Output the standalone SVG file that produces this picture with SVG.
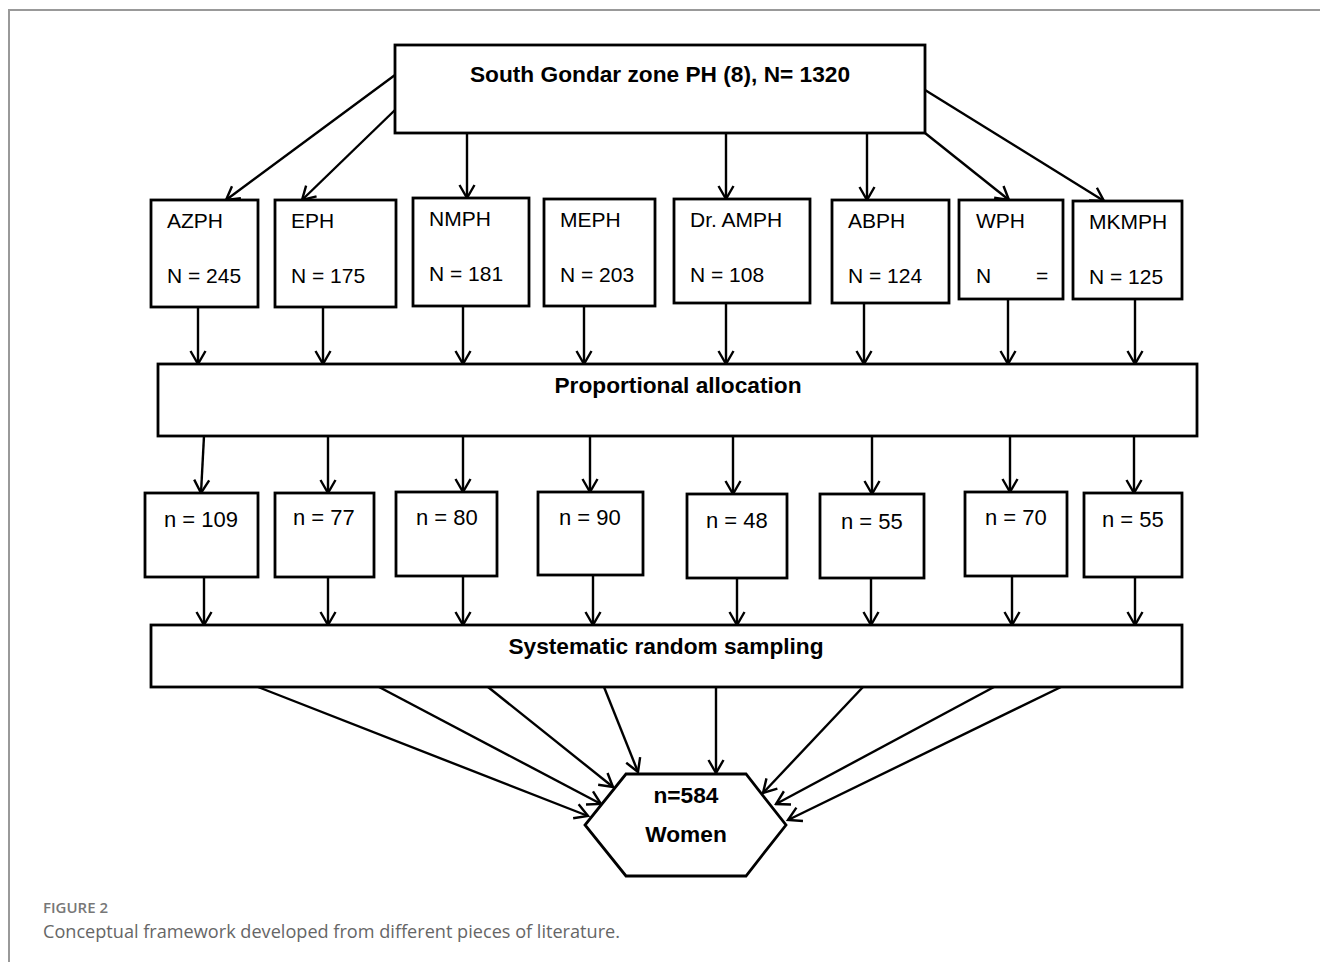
<svg xmlns="http://www.w3.org/2000/svg" width="1320" height="962" viewBox="0 0 1320 962">
<style>
.box{fill:#fff;stroke:#000;stroke-width:2.8}
.lbl{font-family:"Liberation Sans",Arial,sans-serif;font-size:21px;fill:#000}
.nl{font-family:"Liberation Sans",Arial,sans-serif;font-size:22px;fill:#000}
.bold{font-family:"Liberation Sans",Arial,sans-serif;font-size:22.7px;font-weight:bold;fill:#000;text-anchor:middle}
.con path{fill:none;stroke:#000;stroke-width:2.4;marker-end:url(#arr)}
.cap1{font-family:"Open Sans",sans-serif;font-size:15px;font-weight:600;fill:#777}
.cap2{font-family:"Open Sans",sans-serif;font-size:17.5px;fill:#666}
</style>
<defs>
<marker id="arr" markerUnits="userSpaceOnUse" markerWidth="16" markerHeight="18" viewBox="0 0 16 18" refX="14" refY="9" orient="auto">
<path d="M1,1.5 L14,9 L1,16.5" fill="none" stroke="#000" stroke-width="2.4"/>
</marker>
</defs>
<rect x="0" y="0" width="1320" height="962" fill="#fff"/>
<rect x="9" y="10" width="1340" height="1000" fill="none" stroke="#999" stroke-width="2"/>

<g class="con" id="connectors">
<path d="M395,75 L226,200"/>
<path d="M395,110 L302,200"/>
<path d="M467,133 L467,198"/>
<path d="M726,133 L726,199"/>
<path d="M867,133 L867,200"/>
<path d="M925,133 L1009,200"/>
<path d="M925,90 L1104,201"/>

<path d="M198,307 L198,364"/>
<path d="M323,307 L323,364"/>
<path d="M463,306 L463,364"/>
<path d="M584,306 L584,364"/>
<path d="M726,303 L726,364"/>
<path d="M864,303 L864,364"/>
<path d="M1008,299 L1008,364"/>
<path d="M1135,299 L1135,364"/>

<path d="M204,436 L201,493"/>
<path d="M328,436 L328,493"/>
<path d="M463,436 L463,492"/>
<path d="M590,436 L590,492"/>
<path d="M733,436 L733,494"/>
<path d="M872,436 L872,494"/>
<path d="M1010,436 L1010,492"/>
<path d="M1134,436 L1134,493"/>

<path d="M204,577 L204,625"/>
<path d="M328,577 L328,625"/>
<path d="M463,576 L463,625"/>
<path d="M593,575 L593,625"/>
<path d="M737,575 L737,625"/>
<path d="M871,578 L871,625"/>
<path d="M1012,576 L1012,625"/>
<path d="M1135,577 L1135,625"/>

<path d="M258,687 L588,816"/>
<path d="M379,687 L601,804"/>
<path d="M488,687 L613,787"/>
<path d="M604,687 L638,772"/>
<path d="M716,687 L716,773"/>
<path d="M863,687 L763,793"/>
<path d="M994,687 L776,804"/>
<path d="M1061,687 L788,820"/>
</g>

<g id="top"><rect class="box" x="395" y="45" width="530" height="88"/><text class="bold" x="660" y="82">South Gondar zone PH (8), N= 1320</text></g>

<g id="azph"><rect class="box" x="151" y="200" width="107" height="107"/><text class="lbl" x="167" y="228">AZPH</text><text class="lbl" x="167" y="283">N = 245</text></g>
<g id="eph"><rect class="box" x="275" y="200" width="121" height="107"/><text class="lbl" x="291" y="228">EPH</text><text class="lbl" x="291" y="283">N = 175</text></g>
<g id="nmph"><rect class="box" x="413" y="198" width="116" height="108"/><text class="lbl" x="429" y="226">NMPH</text><text class="lbl" x="429" y="281">N = 181</text></g>
<g id="meph"><rect class="box" x="544" y="199" width="111" height="107"/><text class="lbl" x="560" y="227">MEPH</text><text class="lbl" x="560" y="282">N = 203</text></g>
<g id="dramph"><rect class="box" x="674" y="199" width="136" height="104"/><text class="lbl" x="690" y="227">Dr. AMPH</text><text class="lbl" x="690" y="282">N = 108</text></g>
<g id="abph"><rect class="box" x="832" y="200" width="117" height="103"/><text class="lbl" x="848" y="228">ABPH</text><text class="lbl" x="848" y="283">N = 124</text></g>
<g id="wph"><rect class="box" x="959" y="200" width="104" height="99"/><text class="lbl" x="976" y="228">WPH</text><text class="lbl" y="283"><tspan x="976">N</tspan><tspan x="1036">=</tspan></text></g>
<g id="mkmph"><rect class="box" x="1073" y="201" width="109" height="98"/><text class="lbl" x="1089" y="229">MKMPH</text><text class="lbl" x="1089" y="284">N = 125</text></g>

<g id="prop"><rect class="box" x="158" y="364" width="1039" height="72"/><text class="bold" x="678" y="393">Proportional allocation</text></g>

<g id="n109"><rect class="box" x="145" y="493" width="113" height="84"/><text class="nl" x="164" y="527">n = 109</text></g>
<g id="n77"><rect class="box" x="275" y="493" width="99" height="84"/><text class="nl" x="293" y="525">n = 77</text></g>
<g id="n80"><rect class="box" x="396" y="492" width="101" height="84"/><text class="nl" x="416" y="525">n = 80</text></g>
<g id="n90"><rect class="box" x="538" y="492" width="105" height="83"/><text class="nl" x="559" y="525">n = 90</text></g>
<g id="n48"><rect class="box" x="687" y="494" width="100" height="84"/><text class="nl" x="706" y="528">n = 48</text></g>
<g id="n55a"><rect class="box" x="820" y="494" width="104" height="84"/><text class="nl" x="841" y="529">n = 55</text></g>
<g id="n70"><rect class="box" x="965" y="492" width="102" height="84"/><text class="nl" x="985" y="525">n = 70</text></g>
<g id="n55b"><rect class="box" x="1084" y="493" width="98" height="84"/><text class="nl" x="1102" y="527">n = 55</text></g>

<g id="sys"><rect class="box" x="151" y="625" width="1031" height="62"/><text class="bold" x="666" y="654">Systematic random sampling</text></g>

<g id="women"><polygon class="box" points="626,774 746,774 786,825 746,876 626,876 585,825"/><text class="bold" x="686" y="803">n=584</text><text class="bold" x="686" y="842">Women</text></g>

<g id="caption"><text class="cap1" x="43" y="913">FIGURE 2</text><text class="cap2" x="43" y="938" textLength="577" lengthAdjust="spacingAndGlyphs">Conceptual framework developed from different pieces of literature.</text></g>
</svg>
